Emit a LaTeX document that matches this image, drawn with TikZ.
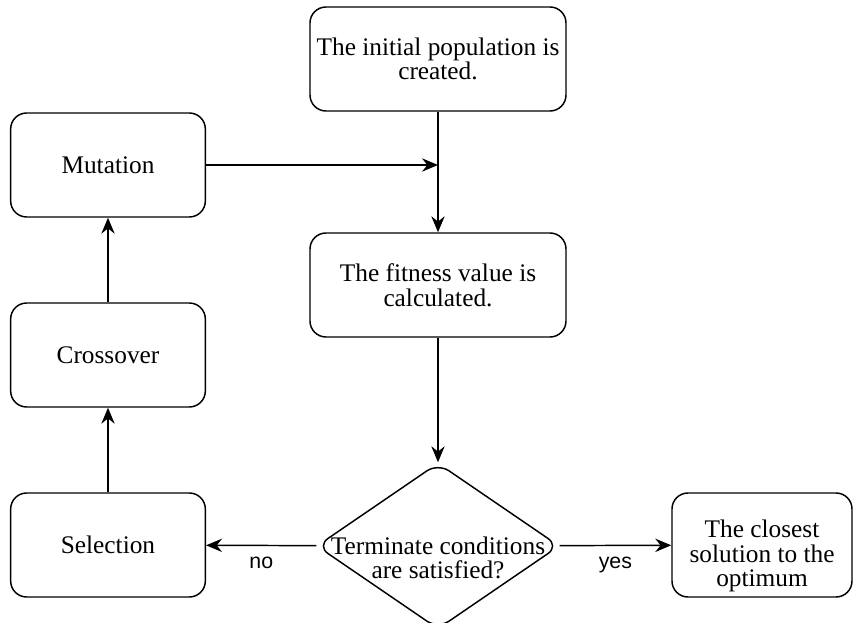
\documentclass[tikz,border=0pt]{standalone}
\usepackage{fontspec}
\setmainfont{Liberation Serif}
\newfontfamily\labelfont{Liberation Sans}
\usetikzlibrary{shapes.geometric,arrows.meta}
\tikzset{
  stepbox/.style={draw,line width=1.1pt,rounded corners=12pt,align=center,
    font=\fontsize{19}{18.5}\selectfont,inner sep=2pt},
  decision/.style={draw,line width=1.1pt,diamond,rounded corners=10pt,inner sep=0pt},
  boxtext/.style={align=center,font=\fontsize{19}{18.5}\selectfont,inner sep=0pt},
  flow/.style={line width=1.1pt,-{Stealth[length=12pt,width=10pt,inset=4pt]}},
  edgelabel/.style={font=\labelfont\fontsize{16}{18}\selectfont}
}
\begin{document}
\begin{tikzpicture}[x=0.75pt,y=0.75pt,yscale=-1,xscale=1]
\useasboundingbox (0,0) rectangle (854,623);

% main column
\node [stepbox,minimum width=192pt,minimum height=78pt] (init) at (438,59) {The initial population is\\created.};
\node [stepbox,minimum width=192pt,minimum height=78pt] (fitness) at (438,285) {The fitness value is\\calculated.};
\node [decision,minimum width=182pt,minimum height=124.5pt] (term) at (438,546) {};
\node [boxtext] (termtext) at (438,558) {Terminate conditions\\are satisfied?};
\node [stepbox,minimum width=135pt,minimum height=78pt] (best) at (762,545) {};
\node [boxtext] (besttext) at (762,556) {The closest\\solution to the\\optimum};

% operators
\node [stepbox,minimum width=146pt,minimum height=78pt] (mut) at (108,165) {Mutation};
\node [stepbox,minimum width=146pt,minimum height=78pt] (cross) at (108,355) {Crossover};
\node [stepbox,minimum width=146pt,minimum height=78pt] (sel) at (108,545) {Selection};

\coordinate (join) at (438,165);

% connectors
\draw [flow] (init) -- (fitness);
\draw [flow] (fitness) -- (term);
\draw [flow] (term) -- (sel) node [pos=0.5,below=5pt,edgelabel] {no};
\draw [flow] (term) -- (best) node [pos=0.5,below=5pt,edgelabel] {yes};
\draw [flow] (sel) -- (cross);
\draw [flow] (cross) -- (mut);
\draw [flow] (mut) -- (join);

\end{tikzpicture}
\end{document}
